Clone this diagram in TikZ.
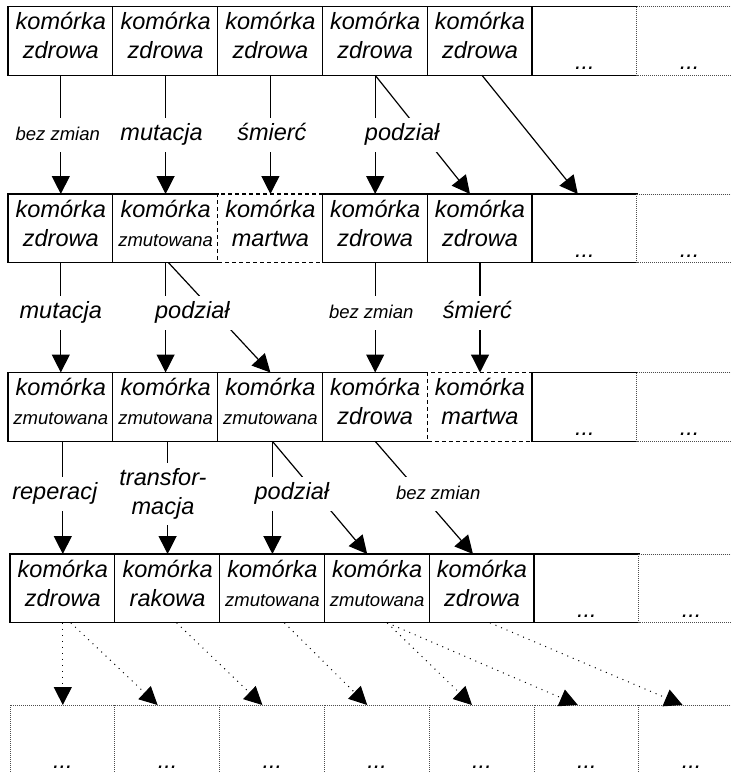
\documentclass[tikz,border=0pt]{standalone}
\usepackage{fontspec}
\setmainfont{Liberation Sans}
\usetikzlibrary{arrows.meta}

\newcommand{\bigtext}{\fontsize{11.75pt}{14.5pt}\selectfont\itshape}
\newcommand{\smalltext}{\fontsize{9.25pt}{11pt}\selectfont\itshape}

\tikzset{
  % the last line of a cell sits 26pt below its top edge
  cell/.style={anchor=north west, inner sep=0pt, minimum width=52.4pt,
    text height=26pt, text depth=8pt, align=center, font=\bigtext},
  blank/.style={cell, text height=31.5pt, text depth=2.5pt},
  frame/.style={line width=0.6pt},
  deadframe/.style={line width=0.6pt, dash pattern=on 2pt off 1.5pt},
  moreframe/.style={line width=0.5pt, black!70, dash pattern=on 0.5pt off 0.5pt},
  flow/.style={line width=0.6pt, -{Triangle[length=9pt,width=9pt]}},
  later/.style={flow, line width=0.5pt, dash pattern=on 0.5pt off 2.5pt},
  note/.style={fill=white, inner xsep=1.5pt, inner ysep=0pt, minimum height=17pt, font=\bigtext},
  tag/.style={note, text height=8pt, text depth=2.5pt},
}

\begin{document}
\begin{tikzpicture}[x=0.5pt,y=-0.5pt]
  \useasboundingbox (0,0) rectangle (731,772);
  \clip (0,0) rectangle (731,772);

  % generation 1
  \node[cell] (a1) at (8,6.5) {komórka\\zdrowa};
  \node[cell] (a2) at (112.8,6.5) {komórka\\zdrowa};
  \node[cell] (a3) at (217.6,6.5) {komórka\\zdrowa};
  \node[cell] (a4) at (322.4,6.5) {komórka\\zdrowa};
  \node[cell] (a5) at (427.2,6.5) {komórka\\zdrowa};
  \node[blank] (a6) at (532,6.5) {...};
  \node[blank] (a7) at (636.8,6.5) {...};

  % generation 2
  \node[cell] (b1) at (8,194) {komórka\\zdrowa};
  \node[cell] (b2) at (112.8,194) {komórka\\{\smalltext zmutowana}};
  \node[cell] (b3) at (217.6,194) {komórka\\martwa};
  \node[cell] (b4) at (322.4,194) {komórka\\zdrowa};
  \node[cell] (b5) at (427.2,194) {komórka\\zdrowa};
  \node[blank] (b6) at (532,194) {...};
  \node[blank] (b7) at (636.8,194) {...};

  % generation 3
  \node[cell] (c1) at (8,372.5) {komórka\\{\smalltext zmutowana}};
  \node[cell] (c2) at (112.8,372.5) {komórka\\{\smalltext zmutowana}};
  \node[cell] (c3) at (217.6,372.5) {komórka\\{\smalltext zmutowana}};
  \node[cell] (c4) at (322.4,372.5) {komórka\\zdrowa};
  \node[cell] (c5) at (427.2,372.5) {komórka\\martwa};
  \node[blank] (c6) at (532,372.5) {...};
  \node[blank] (c7) at (636.8,372.5) {...};

  % generation 4
  \node[cell] (d1) at (10,554) {komórka\\zdrowa};
  \node[cell] (d2) at (114.8,554) {komórka\\rakowa};
  \node[cell] (d3) at (219.6,554) {komórka\\{\smalltext zmutowana}};
  \node[cell] (d4) at (324.4,554) {komórka\\{\smalltext zmutowana}};
  \node[cell] (d5) at (429.2,554) {komórka\\zdrowa};
  \node[blank] (d6) at (534,554) {...};
  \node[blank] (d7) at (638.8,554) {...};

  % generation 5, unknown
  \foreach \i/\x in {1/10,2/114.8,3/219.6,4/324.4,5/429.2,6/534,7/638.8}
    \node[blank, text depth=10pt] (e\i) at (\x,705) {...};

  % frames: top, left and bottom side of each cell
  \foreach \n in {a1,a2,a3,a4,a5,a6,b1,b2,b4,b5,b6,c1,c2,c3,c4,c6,d1,d2,d3,d4,d5,d6}
    \draw[frame] (\n.north east) -| (\n.south west) -- (\n.south east);
  \foreach \n in {b3,c5}
    \draw[deadframe] (\n.north east) -| (\n.south west) -- (\n.south east);
  \foreach \n in {a7,b7,c7,d7,e1,e2,e3,e4,e5,e6,e7}
    \draw[moreframe] (\n.north east) -| (\n.south west) -- (\n.south east);

  % 1 -> 2
  \draw[flow] (a4.south) -- ([xshift=-5pt]b5.north);
  \draw[flow] ([xshift=1pt]a5.south) -- ([xshift=-3.5pt]b6.north);
  \draw[flow] (a1) -- node[tag, font=\smalltext, xshift=-1.5pt] (m1) {bez zmian} (b1);
  \draw[flow] (a2) -- node[tag, xshift=-2pt] (m2) {mutacja} (b2);
  \draw[flow] (a3) -- node[tag, xshift=0.75pt] (m3) {śmierć} (b3);
  \draw[flow] (a4) -- node[tag, xshift=13.5pt] (m4) {podział} (b4);

  % 2 -> 3
  \draw[flow] ([xshift=1.5pt]b2.south) -- (c3.north);
  \draw[flow] (b1) -- node[tag, pos=.46] (n1) {mutacja} (c1);
  \draw[flow] (b2) -- node[tag, pos=.46, xshift=13.4pt] (n2) {podział} (c2);
  \draw[flow] (b4) -- node[tag, pos=.46, font=\smalltext, xshift=-2pt] (n4) {bez zmian} (c4);
  \draw[flow] (b5) -- node[tag, pos=.46, xshift=-1.3pt] (n5) {śmierć} (c5);

  % 3 -> 4
  \draw[flow] ([xshift=1pt]c3.south) -- ([xshift=-5pt]d4.north);
  \draw[flow] (c4.south) -- node[tag, pos=.47, font=\smalltext, xshift=8.5pt] (p4) {bez zmian} ([xshift=-4.5pt]d5.north);
  \draw[flow] (c1.south -| d1.north) -- node[tag, pos=.47, xshift=-4pt] (p1) {reperacj} (d1.north);
  \draw[flow] (c2.south -| d2.north) -- node[note, pos=.47, align=center, minimum height=31pt, xshift=-2.3pt] (p2) {transfor-\\macja} (d2.north);
  \draw[flow] (c3.south -| d3.north) -- node[tag, pos=.47, xshift=9.75pt] (p3) {podział} (d3.north);

  % 4 -> 5
  \draw[later] (d1.south) -- (e1.north);
  \draw[later] ([xshift=4pt]d1.south) -- ([xshift=-5pt]e2.north);
  \draw[later] ([xshift=4.5pt]d2.south) -- ([xshift=-5pt]e3.north);
  \draw[later] ([xshift=6pt]d3.south) -- ([xshift=-5pt]e4.north);
  \draw[later] ([xshift=5pt]d4.south) -- ([xshift=-5pt]e5.north);
  \draw[later] ([xshift=5pt]d4.south) -- ([xshift=-4.5pt]e6.north);
  \draw[later] ([xshift=4pt]d5.south) -- ([xshift=-4.5pt]e7.north);
\end{tikzpicture}
\end{document}
